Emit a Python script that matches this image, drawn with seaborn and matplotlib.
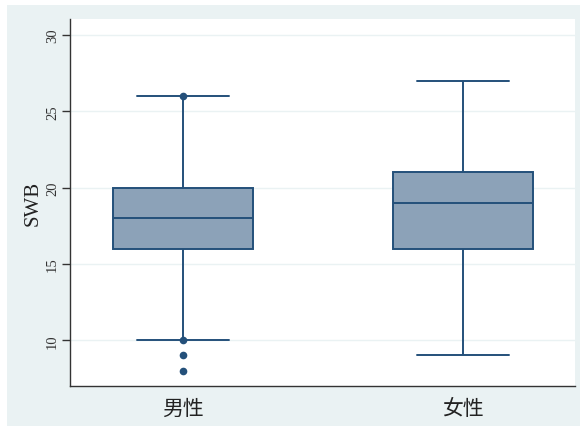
import matplotlib
matplotlib.use('Agg')

import numpy as np
import pandas as pd
import matplotlib.pyplot as plt
from matplotlib.patches import Rectangle
import seaborn as sns

# box summary
groups = ['男性', '女性']
whisk_lo = [10, 9]
q1 = [16, 16]
median = [18, 19]
q3 = [20, 21]
whisk_hi = [26, 27]

# marked points (male group only)
dot_group = ['男性', '男性', '男性', '男性']
dot_value = [26, 10, 9, 8]

bg = '#EAF2F3'
navy = '#24507A'
fill = '#8CA2B8'

# expand each summary into 7 values whose quartiles reproduce it
rows = []
for g, lo, a, m, b, hi in zip(groups, whisk_lo, q1, median, q3, whisk_hi):
    for v in [lo, a, a, m, b, b, hi]:
        rows.append({'group': g, 'SWB': v})
df = pd.DataFrame(rows)
dots = pd.DataFrame({'group': dot_group, 'SWB': dot_value})

sns.set_style('white')

fig = plt.figure(figsize=(5.85, 4.27), dpi=100, facecolor='white')
# graph region background (leaves a thin white border, as in the export)
fig.add_artist(Rectangle((7 / 585, 0), 573 / 585, 421 / 427,
                         transform=fig.transFigure, facecolor=bg,
                         edgecolor='none', zorder=-10))

ax = fig.add_axes([70 / 585, 40 / 427, 505 / 585, 367 / 427])
ax.set_facecolor('white')

sns.boxplot(data=df, x='group', y='SWB', order=groups, ax=ax,
            width=0.5, whis=np.inf, showfliers=False,
            color=fill, linecolor=navy, linewidth=1.4, saturation=1,
            capwidths=0.33)
sns.stripplot(data=dots, x='group', y='SWB', order=groups, ax=ax,
              jitter=False, color=navy, size=5.5, zorder=5)

ax.set_ylim(7, 31.05)
ax.set_xlim(-0.404, 1.4)
ax.set_yticks([10, 15, 20, 25, 30])
ax.yaxis.grid(True, color=bg, linewidth=1.0)
ax.set_axisbelow(True)

for s in ['top', 'right']:
    ax.spines[s].set_visible(False)
for s in ['left', 'bottom']:
    ax.spines[s].set_color('#333333')
    ax.spines[s].set_linewidth(1.0)

ax.tick_params(axis='y', direction='out', length=6, width=1, color='#333333',
               left=True, pad=2)
ax.tick_params(axis='x', length=0, pad=8)
for t in ax.get_yticklabels():
    t.set_rotation(90)
    t.set_va('center')
    t.set_family('Liberation Serif')
    t.set_fontsize(10.5)
    t.set_color('#333333')
for t in ax.get_xticklabels():
    t.set_family(['Noto Sans CJK SC', 'DejaVu Sans'])
    t.set_fontsize(15)
    t.set_color('#222222')

ax.set_xlabel('')
ax.set_ylabel('SWB', family='Liberation Serif', fontsize=15, color='#222222',
              labelpad=2)

fig.savefig('out.png', dpi=100, facecolor='white')
